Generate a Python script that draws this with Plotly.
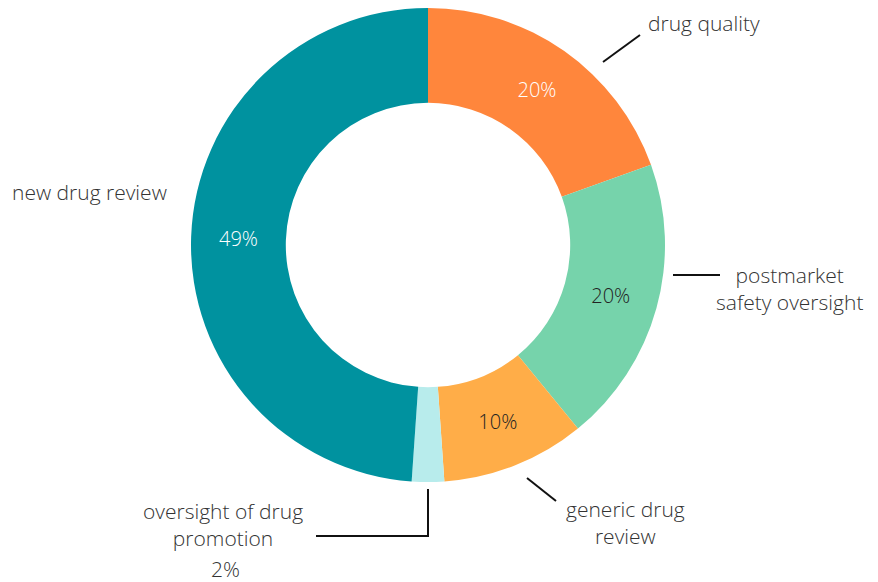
import plotly.graph_objects as go

categories = ["drug quality", "postmarket safety oversight", "generic drug review",
              "oversight of drug promotion", "new drug review"]
values = [19.5, 19.6, 9.8, 2.2, 48.9]
pct_labels = ["20%", "20%", "10%", "2%", "49%"]
colors = ["#FF863C", "#76D3AB", "#FFAD48", "#B8ECEC", "#00929F"]
inside_text = ["20%", "20%", "10%", "", "49%"]
inside_colors = ["#FFFFFF", "#222222", "#222222", "#222222", "#FFFFFF"]

# page has an 8px body margin; figure is drawn inside it
OFF = 8
W, H = 870, 574
FONT = "Open Sans"

def px(x):
    return (x - OFF) / W

def py(y):
    return min(1.0, max(0.0, 1 - (y - OFF) / H))

CX, CY, R = 428, 245, 237

fig = go.Figure(go.Pie(
    labels=categories,
    values=values,
    text=inside_text,
    textinfo="text",
    textposition="inside",
    insidetextorientation="horizontal",
    insidetextfont=dict(color=inside_colors, size=20, family=FONT, weight=300),
    marker=dict(colors=colors, line=dict(width=0)),
    hole=0.6,
    sort=False,
    direction="clockwise",
    rotation=0,
    domain=dict(x=[px(CX - R), px(CX + R)], y=[py(CY + R), py(CY - R)]),
    showlegend=False,
    hoverinfo="label+percent",
))

line_style = dict(color="#111111", width=2)
shapes = [
    dict(type="line", xref="paper", yref="paper", x0=px(603), y0=py(62), x1=px(640), y1=py(35), line=line_style),
    dict(type="line", xref="paper", yref="paper", x0=px(673), y0=py(275), x1=px(720), y1=py(275), line=line_style),
    dict(type="line", xref="paper", yref="paper", x0=px(527), y0=py(478), x1=px(556), y1=py(501), line=line_style),
    dict(type="path", xref="paper", yref="paper",
         path=f"M {px(428)} {py(489)} L {px(428)} {py(536)} L {px(316)} {py(536)}", line=line_style),
]

txt_font = dict(family=FONT, size=21, color="#333333", weight=300)
annotations = [
    dict(text=categories[0], x=px(646), y=py(23), xanchor="left", yanchor="middle"),
    dict(text="postmarket<br>safety oversight", x=px(789), y=py(288), xanchor="center", yanchor="middle"),
    dict(text="generic drug<br>review", x=px(625), y=py(522), xanchor="center", yanchor="middle"),
    dict(text="oversight of drug<br>promotion", x=px(223), y=py(524), xanchor="center", yanchor="middle"),
    dict(text=pct_labels[3], x=px(225), y=0, xanchor="center", yanchor="bottom", yshift=-3),
    dict(text=categories[4], x=px(10), y=py(192), xanchor="left", yanchor="middle"),
]
for a in annotations:
    a.update(xref="paper", yref="paper", showarrow=False, font=txt_font)

fig.update_layout(
    width=W, height=H,
    margin=dict(l=0, r=0, t=0, b=0),
    paper_bgcolor="white",
    plot_bgcolor="white",
    shapes=shapes,
    annotations=annotations,
    font=dict(family=FONT),
)

fig.write_html("out.html")
